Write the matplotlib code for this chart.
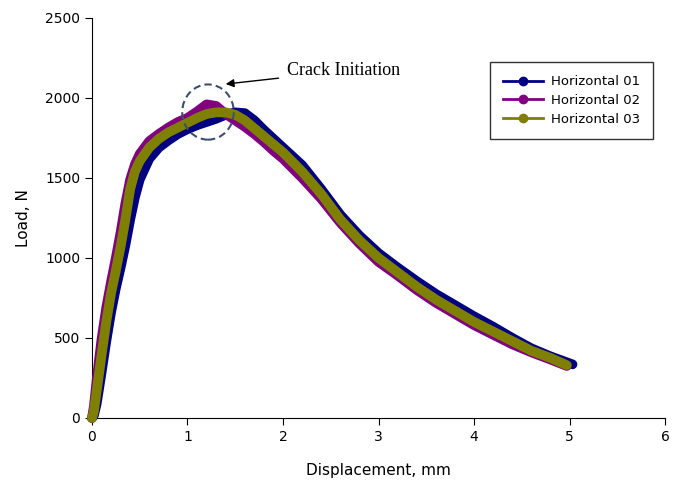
import matplotlib
matplotlib.use("Agg")
import matplotlib.pyplot as plt
from matplotlib.lines import Line2D
from matplotlib.patches import Ellipse

# =============================================================================
# datos (desplazamiento en mm, carga en N)
# =============================================================================
x_h01 = [0, 0.02, 0.05, 0.1, 0.15, 0.2, 0.25, 0.3, 0.35, 0.4, 0.45, 0.5, 0.6, 0.7, 0.8, 0.9,
         1.0, 1.1, 1.2, 1.3, 1.4, 1.5, 1.6, 1.7, 1.8, 1.9, 2.0, 2.2, 2.4, 2.6, 2.8,
         3.0, 3.2, 3.4, 3.6, 3.8, 4.0, 4.2, 4.4, 4.6, 4.8, 5.03]
y_h01 = [0, 15, 90, 280, 480, 660, 810, 940, 1080, 1240, 1380, 1490, 1620, 1690, 1735, 1775,
         1805, 1830, 1850, 1870, 1895, 1910, 1905, 1860, 1800, 1745, 1690, 1580, 1430, 1270, 1140,
         1030, 940, 855, 775, 705, 635, 570, 500, 435, 385, 335]

x_h02 = [0, 0.02, 0.05, 0.1, 0.15, 0.2, 0.25, 0.3, 0.35, 0.4, 0.45, 0.5, 0.6, 0.7, 0.8, 0.9,
         1.0, 1.1, 1.2, 1.3, 1.4, 1.5, 1.6, 1.7, 1.8, 1.9, 2.0, 2.2, 2.4, 2.6, 2.8,
         3.0, 3.2, 3.4, 3.6, 3.8, 4.0, 4.2, 4.4, 4.6, 4.8, 4.97]
y_h02 = [0, 70, 240, 490, 690, 850, 1000, 1160, 1340, 1490, 1585, 1650, 1730, 1775, 1815, 1850,
         1875, 1915, 1960, 1950, 1900, 1860, 1820, 1775, 1725, 1670, 1620, 1500, 1370, 1220, 1090,
         975, 890, 800, 720, 650, 580, 520, 460, 410, 365, 325]

x_h03 = [0, 0.02, 0.05, 0.1, 0.15, 0.2, 0.25, 0.3, 0.35, 0.4, 0.45, 0.5, 0.6, 0.7, 0.8, 0.9,
         1.0, 1.1, 1.2, 1.3, 1.4, 1.5, 1.6, 1.7, 1.8, 1.9, 2.0, 2.2, 2.4, 2.6, 2.8,
         3.0, 3.2, 3.4, 3.6, 3.8, 4.0, 4.2, 4.4, 4.6, 4.8, 4.97]
y_h03 = [0, 40, 170, 390, 600, 780, 920, 1070, 1240, 1430, 1540, 1605, 1690, 1745, 1785, 1815,
         1845, 1875, 1900, 1910, 1910, 1895, 1860, 1810, 1760, 1710, 1660, 1540, 1400, 1240, 1110,
         1000, 910, 820, 740, 670, 600, 540, 480, 420, 375, 330]

labels = ["Horizontal 01", "Horizontal 02", "Horizontal 03"]
colores = ["#000080", "#800080", "#808000"]

# =============================================================================
# grafica
# =============================================================================
fig = plt.figure(figsize=(6.76, 4.86), dpi=100)
ax = fig.add_axes([0.136, 0.140, 0.848, 0.823])

for xs, ys, c in zip([x_h01, x_h02, x_h03], [y_h01, y_h02, y_h03], colores):
    ax.plot(xs, ys, color=c, lw=7, solid_capstyle="round", solid_joinstyle="round",
            clip_on=False, zorder=3)

ax.set_xlim(0, 6)
ax.set_ylim(0, 2500)
ax.set_xticks(range(0, 7))
ax.set_yticks(range(0, 2501, 500))
ax.spines["top"].set_visible(False)
ax.spines["right"].set_visible(False)
ax.tick_params(labelsize=10, direction="out", length=5)
ax.set_xlabel("Displacement, mm", fontsize=11, labelpad=14)
ax.set_ylabel("Load, N", fontsize=11, labelpad=10)

# circulo de inicio de grieta
circ = Ellipse((1.215, 1912), 0.54, 345, fill=False, ls=(0, (3.5, 2)),
               lw=1.5, ec="#3c4f6e", zorder=5)
ax.add_patch(circ)
ax.annotate("Crack Initiation", xy=(1.40, 2087), xytext=(2.04, 2169),
            fontsize=13, family="Liberation Serif", va="center",
            arrowprops=dict(arrowstyle="-|>", color="black", lw=1, shrinkB=0,
                            shrinkA=4, mutation_scale=12))

handles = [Line2D([], [], color=c, lw=2, marker="o", markersize=6) for c in colores]
leg = ax.legend(handles, labels, loc="upper right", bbox_to_anchor=(0.979, 0.89),
                borderaxespad=0, fontsize=9.5, frameon=True, fancybox=False,
                handlelength=3, handletextpad=0.6, borderpad=1.0, labelspacing=0.45)
leg.get_frame().set_edgecolor("black")
leg.get_frame().set_linewidth(1)

plt.savefig("out.png", dpi=100)
